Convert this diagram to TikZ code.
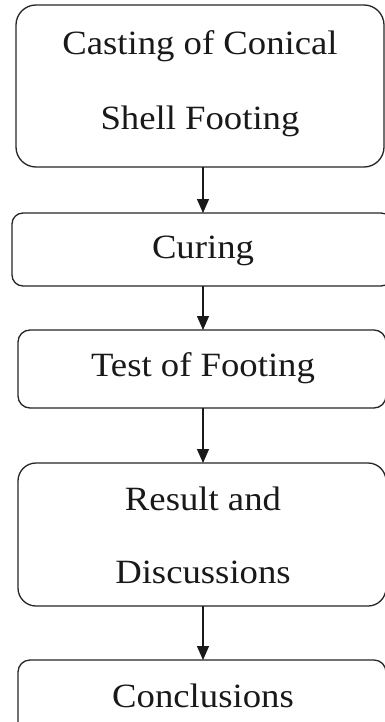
\documentclass[tikz,border=0pt]{standalone}
\usepackage{fontspec}
\setmainfont{Liberation Serif}[FakeStretch=1.08]
\usetikzlibrary{arrows.meta}
\tikzset{
  box/.style={draw=black!85, line width=1.3pt, inner sep=0pt, outer sep=0pt, fill=none},
  lbl/.style={anchor=base, inner sep=0pt, font=\fontsize{34}{40}\selectfont, text=black!90},
  arr/.style={draw=black!90, line width=1.3pt, -{Triangle[width=12pt,length=14pt]}}
}
\begin{document}
\begin{tikzpicture}[x=1pt,y=-1pt]
\useasboundingbox (0,0) rectangle (385,722);
\clip (0,0) rectangle (385,722);
\fill[white] (0,0) rectangle (385,722);
% boxes
\node[box, rounded corners=20pt, minimum width=368pt, minimum height=162pt] (b1) at (200,86) {};
\node[box, rounded corners=11pt, minimum width=380pt, minimum height=73pt] (b2) at (202,249.5) {};
\node[box, rounded corners=12pt, minimum width=368pt, minimum height=78pt] (b3) at (202,369) {};
\node[box, rounded corners=18pt, minimum width=368pt, minimum height=143pt] (b4) at (202,534.5) {};
\node[box, rounded corners=12pt, minimum width=368pt, minimum height=75pt] (b5) at (202,697.5) {};
% texts
\node[lbl] (t1a) at (200,55) {Casting of Conical};
\node[lbl] (t1b) at (200,130) {Shell Footing};
\node[lbl] (t2) at (203,258) {Curing};
\node[lbl] (t3) at (203,376) {Test of Footing};
\node[lbl] (t4a) at (203,510) {Result and};
\node[lbl] (t4b) at (203,583) {Discussions};
\node[lbl] (t5) at (203,707) {Conclusions};
% arrows
\draw[arr] (b1.south -| t2) -- (b2.north -| t2);
\draw[arr] (b2.south -| t2) -- (b3.north -| t2);
\draw[arr] (b3.south -| t2) -- (b4.north -| t2);
\draw[arr] (b4.south -| t2) -- (b5.north -| t2);
\end{tikzpicture}
\end{document}
